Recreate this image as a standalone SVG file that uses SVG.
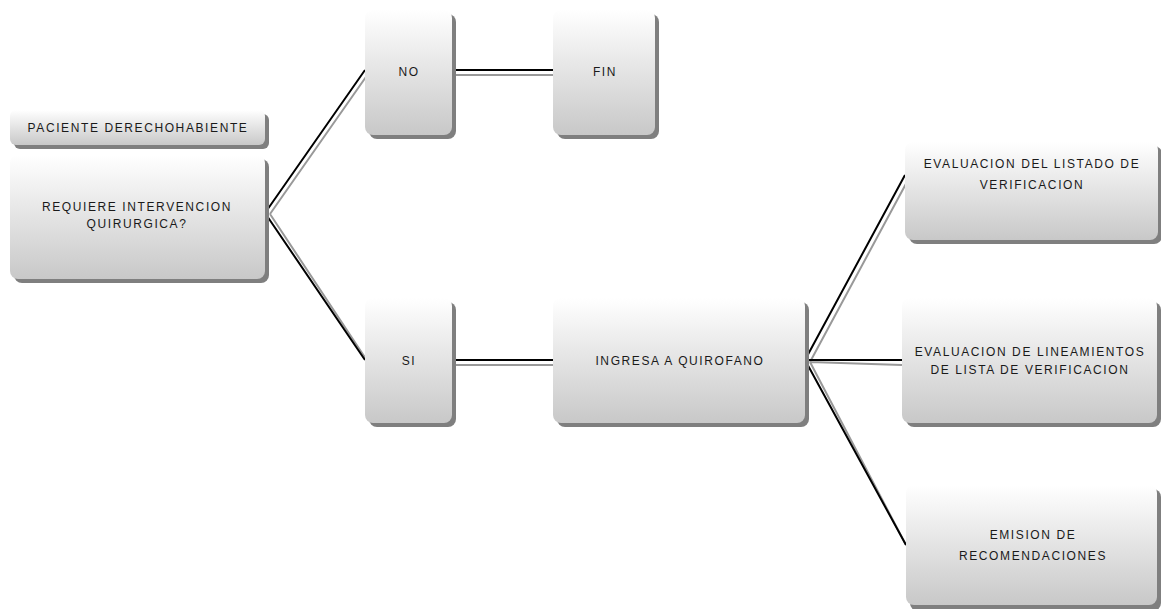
<svg xmlns="http://www.w3.org/2000/svg" width="1161" height="609" viewBox="0 0 1161 609">
<defs>
<linearGradient id="g" x1="0" y1="0" x2="0" y2="1">
<stop offset="0" stop-color="#ffffff"/>
<stop offset="1" stop-color="#c8c8c8"/>
</linearGradient>
<style>
.sh{fill:#7f7f7f}
.bx{fill:url(#g)}
.t{font-family:"Liberation Sans",Arial,sans-serif;font-size:12px;fill:#1a1a1a;text-anchor:middle;letter-spacing:1.6px}
.c1{stroke:#000;stroke-width:2;fill:none}
.c2{stroke:#999;stroke-width:2;fill:none}
</style>
</defs>
<rect width="1161" height="609" fill="#fff"/>
<g id="connectors">
<path class="c2" d="M270,214 L368,74 M270,214 L368,362"/>
<path class="c1" d="M265,213 L365,70 M265,213 L365,360"/>
<path class="c2" d="M452,75 L553,75 M452,365 L553,365"/>
<path class="c1" d="M452,70 L553,70 M452,360 L553,360"/>
<path class="c2" d="M810,362 L908,180 M810,362 L902,365 M810,362 L906,545"/>
<path class="c1" d="M805,360 L905,175 M805,360 L902,360 M805,360 L906,545"/>
</g>
<g id="n-paciente">
<rect class="sh" x="14" y="114" width="255" height="35" rx="6"/>
<rect class="bx" x="10" y="110" width="255" height="35" rx="6"/>
<text class="t" x="138" y="132">PACIENTE DERECHOHABIENTE</text>
</g>
<g id="n-requiere">
<rect class="sh" x="14" y="159" width="255" height="124" rx="8"/>
<rect class="bx" x="10" y="155" width="255" height="124" rx="8"/>
<text class="t" x="137" y="211">REQUIERE INTERVENCION</text>
<text class="t" x="137" y="228">QUIRURGICA?</text>
</g>
<g id="n-no">
<rect class="sh" x="369" y="14" width="87" height="125" rx="8"/>
<rect class="bx" x="365" y="10" width="87" height="125" rx="8"/>
<text class="t" x="409" y="76">NO</text>
</g>
<g id="n-fin">
<rect class="sh" x="557" y="14" width="102" height="125" rx="8"/>
<rect class="bx" x="553" y="10" width="102" height="125" rx="8"/>
<text class="t" x="605" y="76">FIN</text>
</g>
<g id="n-si">
<rect class="sh" x="369" y="302" width="87" height="125" rx="8"/>
<rect class="bx" x="365" y="298" width="87" height="125" rx="8"/>
<text class="t" x="409" y="365">SI</text>
</g>
<g id="n-ingresa">
<rect class="sh" x="557" y="302" width="252" height="125" rx="8"/>
<rect class="bx" x="553" y="298" width="252" height="125" rx="8"/>
<text class="t" x="680" y="365">INGRESA A QUIROFANO</text>
</g>
<g id="n-listado">
<rect class="sh" x="909" y="146" width="253" height="98" rx="8"/>
<rect class="bx" x="905" y="142" width="253" height="98" rx="8"/>
<text class="t" x="1032" y="168">EVALUACION DEL LISTADO DE</text>
<text class="t" x="1032" y="189">VERIFICACION</text>
</g>
<g id="n-lineamientos">
<rect class="sh" x="906" y="302" width="255" height="125" rx="8"/>
<rect class="bx" x="902" y="298" width="255" height="125" rx="8"/>
<text class="t" x="1030" y="356">EVALUACION DE LINEAMIENTOS</text>
<text class="t" x="1030" y="374">DE LISTA DE VERIFICACION</text>
</g>
<g id="n-emision">
<rect class="sh" x="910" y="489" width="251" height="122" rx="8"/>
<rect class="bx" x="906" y="485" width="251" height="120" rx="8"/>
<text class="t" x="1033" y="539">EMISION DE</text>
<text class="t" x="1033" y="560">RECOMENDACIONES</text>
</g>
</svg>
